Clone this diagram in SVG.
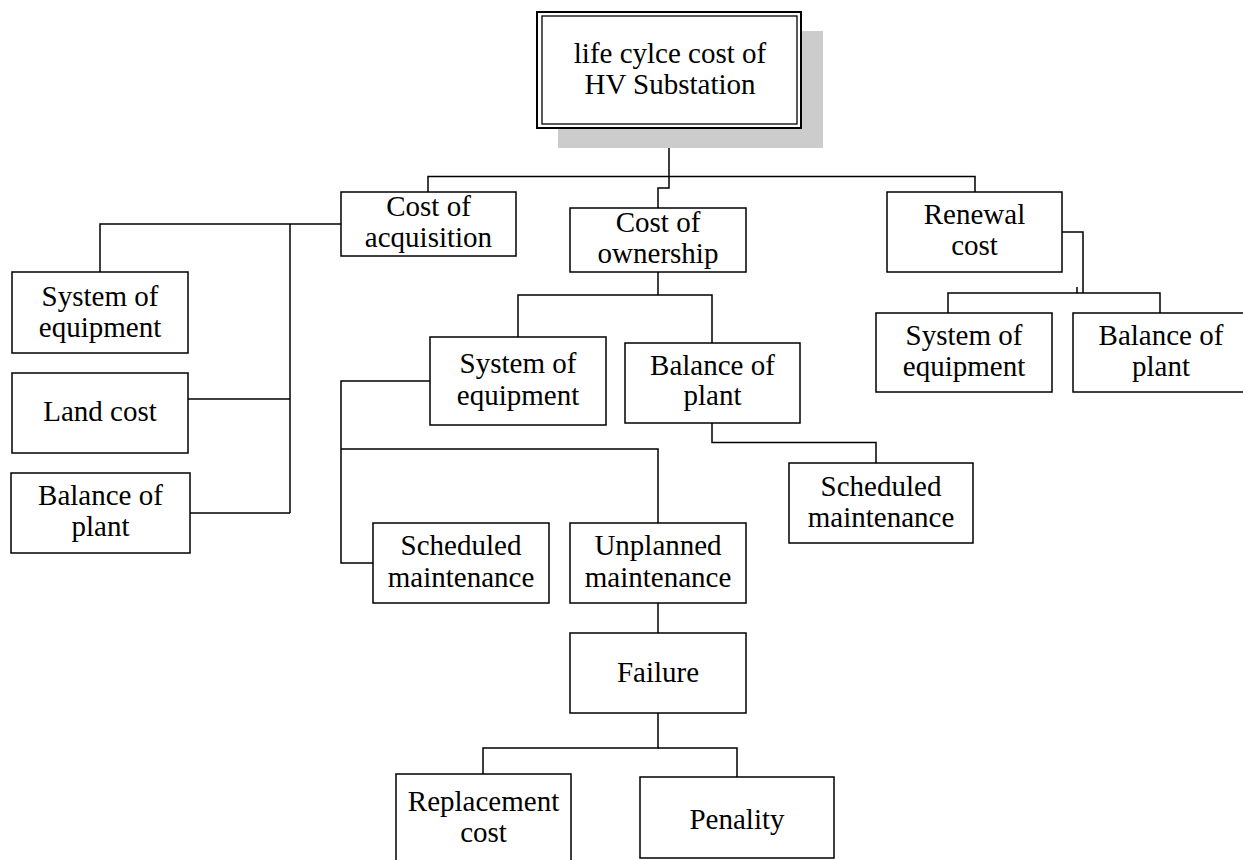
<svg xmlns="http://www.w3.org/2000/svg" width="1243" height="860" viewBox="0 0 1243 860">
<style>
.box{fill:#fff;stroke:#000;stroke-width:1.5}
.ln{fill:none;stroke:#000;stroke-width:1.5}
text{font-family:"Liberation Serif","Times New Roman",serif;font-size:29px;fill:#000;text-anchor:middle}
</style>
<rect width="1243" height="860" fill="#fff"/>
<g id="connectors" class="ln">
<path d="M669,128 V188 H658 V208"/>
<path d="M428,192 V176.5 H975 V192"/>
<path d="M341,224 H100 V272"/>
<path d="M290,224 V513"/>
<path d="M188,399 H290"/>
<path d="M190,513 H290"/>
<path d="M658,272 V295"/>
<path d="M518,337 V295 H712 V343"/>
<path d="M712,423 V442.5 H876 V463"/>
<path d="M430,381 H341 V563 H373"/>
<path d="M341,449 H658 V523"/>
<path d="M658,603 V633"/>
<path d="M658,713 V748 H483 V774"/>
<path d="M658,748 H737 V777"/>
<path d="M1062,232 H1083 V293"/>
<path d="M948,313 V293 H1160 V313"/>
<path d="M1077,287 V293"/>
</g>
<g id="root">
<rect x="558" y="31" width="265" height="117" fill="#cccccc"/>
<rect x="537" y="12" width="264" height="116" fill="#fff" stroke="#000" stroke-width="2"/>
<rect x="542" y="16" width="255" height="108" fill="none" stroke="#000" stroke-width="1.3"/>
<text x="670" y="63">life cylce cost of</text>
<text x="670" y="94">HV Substation</text>
</g>
<g id="acquisition">
<rect class="box" x="341" y="192" width="175" height="64"/>
<text x="428.5" y="216">Cost of</text>
<text x="428.5" y="247">acquisition</text>
</g>
<g id="ownership">
<rect class="box" x="570" y="208" width="176" height="64"/>
<text x="658" y="232">Cost of</text>
<text x="658" y="263">ownership</text>
</g>
<g id="renewal">
<rect class="box" x="887" y="192" width="175" height="80"/>
<text x="974.5" y="224">Renewal</text>
<text x="974.5" y="255">cost</text>
</g>
<g id="sys-left">
<rect class="box" x="12" y="272" width="176" height="81"/>
<text x="100" y="306">System of</text>
<text x="100" y="337">equipment</text>
</g>
<g id="land">
<rect class="box" x="12" y="373" width="176" height="80"/>
<text x="100" y="421">Land cost</text>
</g>
<g id="bal-left">
<rect class="box" x="11" y="473" width="179" height="80"/>
<text x="100.5" y="505">Balance of</text>
<text x="100.5" y="536">plant</text>
</g>
<g id="sys-mid">
<rect class="box" x="430" y="337" width="176" height="88"/>
<text x="518" y="373">System of</text>
<text x="518" y="405">equipment</text>
</g>
<g id="bal-mid">
<rect class="box" x="625" y="343" width="175" height="80"/>
<text x="712.5" y="375">Balance of</text>
<text x="712.5" y="405">plant</text>
</g>
<g id="sched-right">
<rect class="box" x="789" y="463" width="184" height="80"/>
<text x="881" y="496">Scheduled</text>
<text x="881" y="527">maintenance</text>
</g>
<g id="sched-mid">
<rect class="box" x="373" y="523" width="176" height="80"/>
<text x="461" y="555">Scheduled</text>
<text x="461" y="587">maintenance</text>
</g>
<g id="unplanned">
<rect class="box" x="570" y="523" width="176" height="80"/>
<text x="658" y="555">Unplanned</text>
<text x="658" y="587">maintenance</text>
</g>
<g id="failure">
<rect class="box" x="570" y="633" width="176" height="80"/>
<text x="658" y="682">Failure</text>
</g>
<g id="replacement">
<path class="box" d="M396,861 V774 H571 V861"/>
<text x="483.5" y="811">Replacement</text>
<text x="483.5" y="842">cost</text>
</g>
<g id="penality">
<rect class="box" x="640" y="777" width="194" height="81"/>
<text x="737" y="829">Penality</text>
</g>
<g id="sys-right">
<rect class="box" x="876" y="313" width="176" height="79"/>
<text x="964" y="345">System of</text>
<text x="964" y="376">equipment</text>
</g>
<g id="bal-right">
<rect class="box" x="1073" y="313" width="180" height="79"/>
<text x="1161" y="345">Balance of</text>
<text x="1161" y="376">plant</text>
</g>
</svg>
